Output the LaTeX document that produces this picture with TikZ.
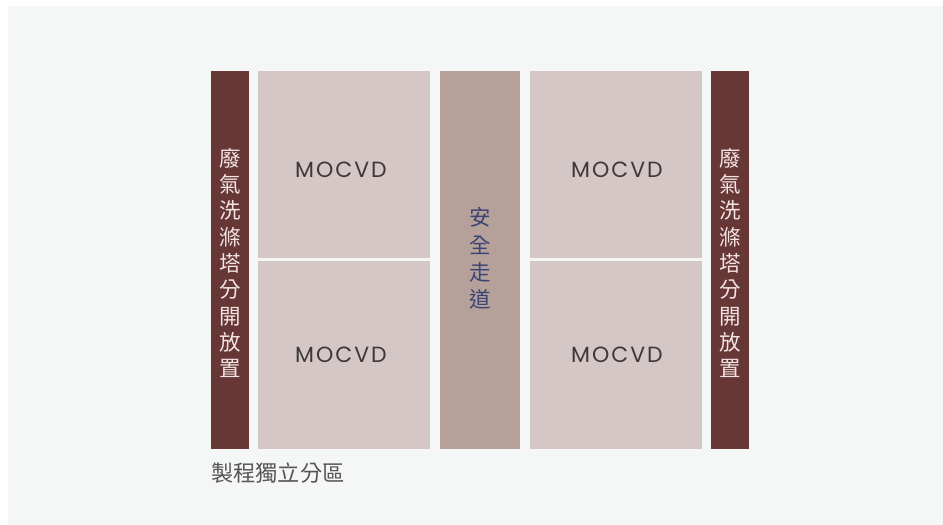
\documentclass[tikz,border=0pt]{standalone}
\usepackage{fontspec}
\setmainfont{Poppins}
\newfontfamily\cjk{Noto Sans CJK TC}
\newfontfamily\mocfont[LetterSpace=9]{Poppins}
\definecolor{bgc}{HTML}{F5F7F6}
\definecolor{tower}{HTML}{673736}
\definecolor{mocc}{HTML}{D4C7C6}
\definecolor{aisle}{HTML}{B5A19A}
\definecolor{aisletxt}{HTML}{3B4475}
\definecolor{moctxt}{HTML}{3E3939}
\definecolor{towertxt}{HTML}{F2E4E3}
\definecolor{labtxt}{HTML}{555555}
\tikzset{
  towtext/.style={text=towertxt, font=\cjk\fontsize{21.5}{26.3}\selectfont, align=center, inner sep=0pt},
  aisletext/.style={text=aisletxt, font=\cjk\fontsize{21.5}{27.3}\selectfont, align=center, inner sep=0pt},
  moctext/.style={text=moctxt, font=\mocfont\fontsize{22}{24}\selectfont, inner sep=0pt},
  labtext/.style={text=labtxt, font=\cjk\fontsize{22.2}{24}\selectfont, inner sep=0pt, anchor=west}
}
\begin{document}
\begin{tikzpicture}[x=1pt,y=-1pt]
\useasboundingbox (0,0) rectangle (943,525);
\fill[white] (0,0) rectangle (943,525);
\fill[bgc] (8,6) rectangle (943,525);
% towers
\fill[tower] (211,71) rectangle (249,448.5);
\fill[tower] (711,71) rectangle (749,448.5);
% MOCVD blocks
\fill[mocc] (258,71) rectangle (430,258.3);
\fill[mocc] (258,261) rectangle (430,448.5);
\fill[mocc] (530,71) rectangle (702,258.3);
\fill[mocc] (530,261) rectangle (702,448.5);
% aisle
\fill[aisle] (440,71) rectangle (520,448.5);
% texts
\node[towtext] (tl) at (230,263) {廢\\氣\\洗\\滌\\塔\\分\\開\\放\\置};
\node[towtext] (tr) at (730,263) {廢\\氣\\洗\\滌\\塔\\分\\開\\放\\置};
\node[aisletext] (ai) at (480,258.5) {安\\全\\走\\道};
\node[moctext] (m1) at (341,170) {MOCVD};
\node[moctext] (m2) at (341,355) {MOCVD};
\node[moctext] (m3) at (617,170) {MOCVD};
\node[moctext] (m4) at (617,355) {MOCVD};
\node[labtext] (lab) at (211,473) {製程獨立分區};
\end{tikzpicture}
\end{document}
